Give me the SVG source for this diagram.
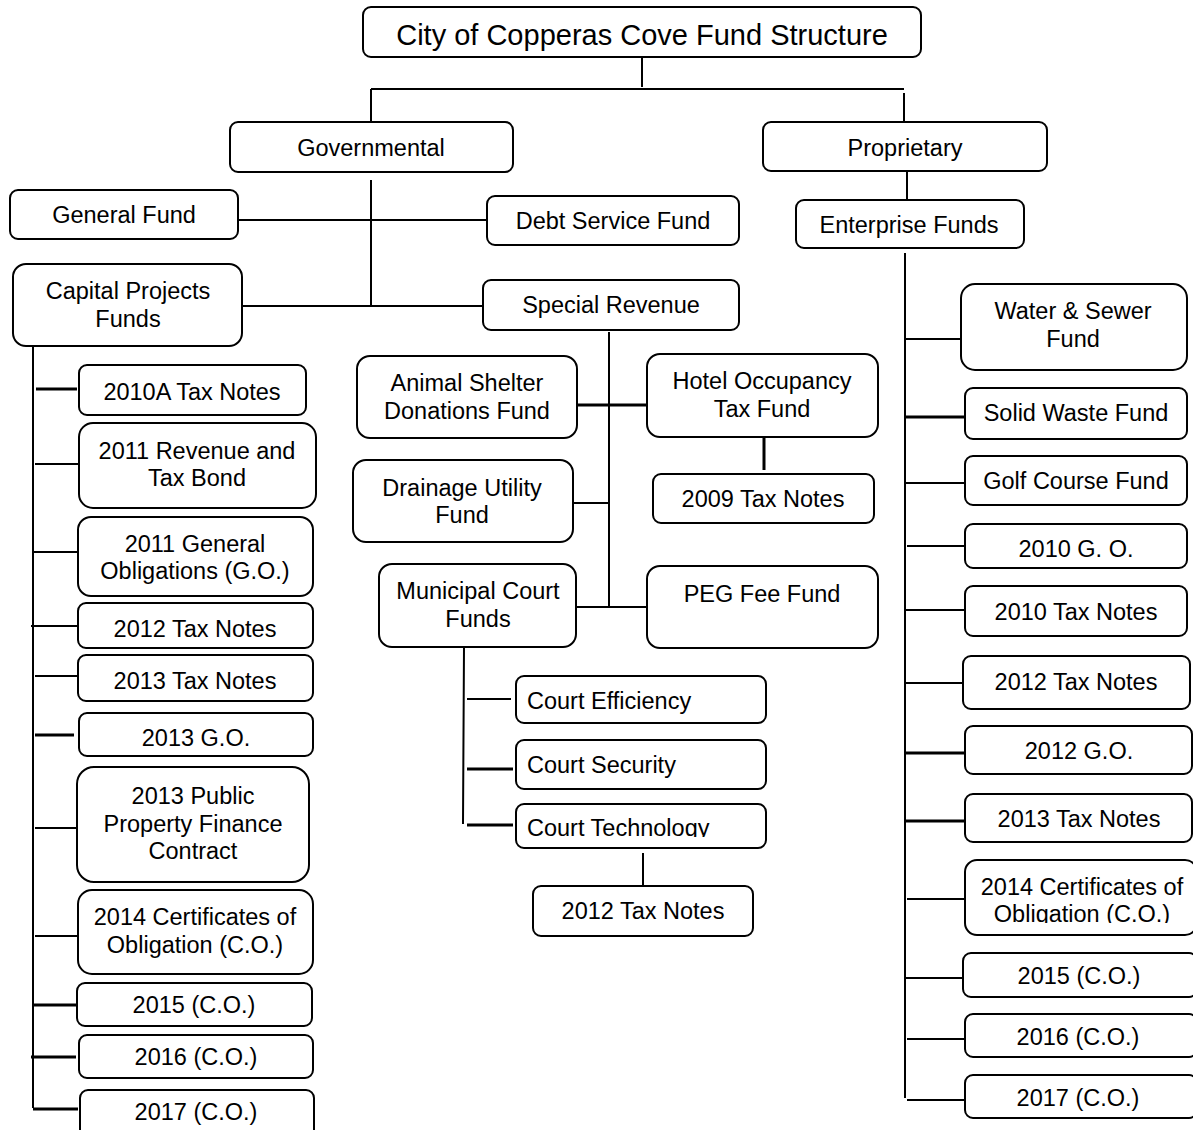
<svg xmlns="http://www.w3.org/2000/svg" width="1193" height="1130" viewBox="0 0 1193 1130">
<style>
.box{fill:#fff;stroke:#000;stroke-width:2}
.t{font-family:"Liberation Sans",Arial,sans-serif;font-size:23.5px;text-anchor:middle;fill:#000}
.l{text-anchor:start}
.ttl{font-size:29px}
.ln{stroke:#000;stroke-width:2;fill:none}
.th{stroke-width:3}
</style>
<defs>
<clipPath id="clipTech"><rect x="510" y="800" width="260" height="37"/></clipPath>
<clipPath id="clipCO"><rect x="960" y="855" width="240" height="68"/></clipPath>
</defs>
<rect width="1193" height="1130" fill="#fff"/>
<g id="connectors">
<path class="ln" d="M642 57V87M371 89H904M371 89V122M904 93V122M371 180V306M238 220H486M242 306H483M907 171V200M609 332V607M573 503H609M576 607H646M464 647L463 824M467 699H511M643 853V885"/>
<path class="ln th" d="M577 405H646M764 437V470M467 769H513M467 825H513"/>
<path class="ln" d="M33 346V1108M35 464H79M32 552H78M31 626H78M35 676H77M35 828H76M35 936H78"/>
<path class="ln th" d="M36 389H77M35 735H74M33 1005H77M31 1057H76M33 1109H78"/>
<path class="ln" d="M905 253V1098M906 339H961M906 483H965M907 546H965M906 610H965M906 683H963M907 899H965M906 978H963M907 1039H965M907 1100H965"/>
<path class="ln th" d="M906 417H965M906 753H965M906 821H965"/>
</g>
<g id="title"><rect class="box" x="363" y="7" width="558" height="50" rx="8"/><text class="t ttl" x="642" y="45">City of Copperas Cove Fund Structure</text></g>
<g id="governmental"><rect class="box" x="230" y="122" width="283" height="50" rx="8"/><text class="t" x="371" y="156">Governmental</text></g>
<g id="proprietary"><rect class="box" x="763" y="122" width="284" height="49" rx="8"/><text class="t" x="905" y="156">Proprietary</text></g>
<g id="general-fund"><rect class="box" x="10" y="190" width="228" height="49" rx="8"/><text class="t" x="124" y="223">General Fund</text></g>
<g id="debt-service"><rect class="box" x="487" y="196" width="252" height="49" rx="8"/><text class="t" x="613" y="229">Debt Service Fund</text></g>
<g id="enterprise"><rect class="box" x="796" y="200" width="228" height="48" rx="8"/><text class="t" x="909" y="233">Enterprise Funds</text></g>
<g id="capital-projects"><rect class="box" x="13" y="264" width="229" height="82" rx="13"/><text class="t" x="128" y="299">Capital Projects</text><text class="t" x="128" y="327">Funds</text></g>
<g id="special-revenue"><rect class="box" x="483" y="280" width="256" height="50" rx="8"/><text class="t" x="611" y="313">Special Revenue</text></g>
<g id="water-sewer"><rect class="box" x="961" y="284" width="226" height="86" rx="14"/><text class="t" x="1073" y="319">Water &amp; Sewer</text><text class="t" x="1073" y="347">Fund</text></g>
<g id="animal-shelter"><rect class="box" x="357" y="356" width="220" height="82" rx="13"/><text class="t" x="467" y="391">Animal Shelter</text><text class="t" x="467" y="419">Donations Fund</text></g>
<g id="hotel-occupancy"><rect class="box" x="647" y="354" width="231" height="83" rx="13"/><text class="t" x="762" y="389">Hotel Occupancy</text><text class="t" x="762" y="417">Tax Fund</text></g>
<g id="tax-notes-2009"><rect class="box" x="653" y="474" width="221" height="49" rx="8"/><text class="t" x="763" y="507">2009 Tax Notes</text></g>
<g id="solid-waste"><rect class="box" x="965" y="388" width="222" height="51" rx="8"/><text class="t" x="1076" y="421">Solid Waste Fund</text></g>
<g id="golf-course"><rect class="box" x="965" y="456" width="222" height="49" rx="8"/><text class="t" x="1076" y="489">Golf Course Fund</text></g>
<g id="drainage-utility"><rect class="box" x="353" y="460" width="220" height="82" rx="13"/><text class="t" x="462" y="496">Drainage Utility</text><text class="t" x="462" y="523">Fund</text></g>
<g id="municipal-court"><rect class="box" x="379" y="564" width="197" height="83" rx="13"/><text class="t" x="478" y="599">Municipal Court</text><text class="t" x="478" y="627">Funds</text></g>
<g id="peg-fee"><rect class="box" x="647" y="566" width="231" height="82" rx="13"/><text class="t" x="762" y="602">PEG Fee Fund</text></g>
<g id="court-efficiency"><rect class="box" x="516" y="676" width="250" height="47" rx="8"/><text class="t l" x="527" y="709">Court Efficiency</text></g>
<g id="court-security"><rect class="box" x="516" y="740" width="250" height="49" rx="8"/><text class="t l" x="527" y="773">Court Security</text></g>
<g id="court-technology"><rect class="box" x="516" y="804" width="250" height="44" rx="8"/><text class="t l" x="527" y="836" clip-path="url(#clipTech)">Court Technology</text></g>
<g id="tax-notes-2012-court"><rect class="box" x="533" y="886" width="220" height="50" rx="8"/><text class="t" x="643" y="919">2012 Tax Notes</text></g>
<g id="cp-2010a-tax-notes"><rect class="box" x="79" y="365" width="227" height="50" rx="8"/><text class="t" x="192" y="400">2010A Tax Notes</text></g>
<g id="cp-2011-revenue"><rect class="box" x="79" y="423" width="237" height="85" rx="14"/><text class="t" x="197" y="459">2011 Revenue and</text><text class="t" x="197" y="486">Tax Bond</text></g>
<g id="cp-2011-go"><rect class="box" x="78" y="517" width="235" height="79" rx="13"/><text class="t" x="195" y="552">2011 General</text><text class="t" x="195" y="579">Obligations (G.O.)</text></g>
<g id="cp-2012-tax-notes"><rect class="box" x="78" y="603" width="235" height="45" rx="8"/><text class="t" x="195" y="637">2012 Tax Notes</text></g>
<g id="cp-2013-tax-notes"><rect class="box" x="78" y="655" width="235" height="46" rx="8"/><text class="t" x="195" y="689">2013 Tax Notes</text></g>
<g id="cp-2013-go"><rect class="box" x="79" y="713" width="234" height="43" rx="8"/><text class="t" x="196" y="746">2013 G.O.</text></g>
<g id="cp-2013-ppfc"><rect class="box" x="77" y="767" width="232" height="115" rx="17"/><text class="t" x="193" y="804">2013 Public</text><text class="t" x="193" y="832">Property Finance</text><text class="t" x="193" y="859">Contract</text></g>
<g id="cp-2014-co"><rect class="box" x="78" y="890" width="235" height="84" rx="14"/><text class="t" x="195" y="925">2014 Certificates of</text><text class="t" x="195" y="953">Obligation (C.O.)</text></g>
<g id="cp-2015-co"><rect class="box" x="77" y="983" width="235" height="43" rx="8"/><text class="t" x="194" y="1013">2015 (C.O.)</text></g>
<g id="cp-2016-co"><rect class="box" x="79" y="1035" width="234" height="43" rx="8"/><text class="t" x="196" y="1065">2016 (C.O.)</text></g>
<g id="cp-2017-co"><rect class="box" x="80" y="1090" width="234" height="60" rx="8"/><text class="t" x="196" y="1120">2017 (C.O.)</text></g>
<g id="ef-2010-go"><rect class="box" x="965" y="524" width="222" height="44" rx="8"/><text class="t" x="1076" y="557">2010 G. O.</text></g>
<g id="ef-2010-tax-notes"><rect class="box" x="965" y="586" width="222" height="50" rx="8"/><text class="t" x="1076" y="620">2010 Tax Notes</text></g>
<g id="ef-2012-tax-notes"><rect class="box" x="963" y="656" width="227" height="53" rx="8"/><text class="t" x="1076" y="690">2012 Tax Notes</text></g>
<g id="ef-2012-go"><rect class="box" x="965" y="726" width="227" height="48" rx="8"/><text class="t" x="1079" y="759">2012 G.O.</text></g>
<g id="ef-2013-tax-notes"><rect class="box" x="965" y="794" width="227" height="48" rx="8"/><text class="t" x="1079" y="827">2013 Tax Notes</text></g>
<g id="ef-2014-co"><rect class="box" x="965" y="860" width="232" height="75" rx="12"/><text class="t" x="1082" y="895">2014 Certificates of</text><text class="t" x="1082" y="922" clip-path="url(#clipCO)">Obligation (C.O.)</text></g>
<g id="ef-2015-co"><rect class="box" x="963" y="953" width="234" height="44" rx="8"/><text class="t" x="1079" y="984">2015 (C.O.)</text></g>
<g id="ef-2016-co"><rect class="box" x="965" y="1014" width="232" height="43" rx="8"/><text class="t" x="1078" y="1045">2016 (C.O.)</text></g>
<g id="ef-2017-co"><rect class="box" x="965" y="1075" width="232" height="43" rx="8"/><text class="t" x="1078" y="1106">2017 (C.O.)</text></g>
</svg>
